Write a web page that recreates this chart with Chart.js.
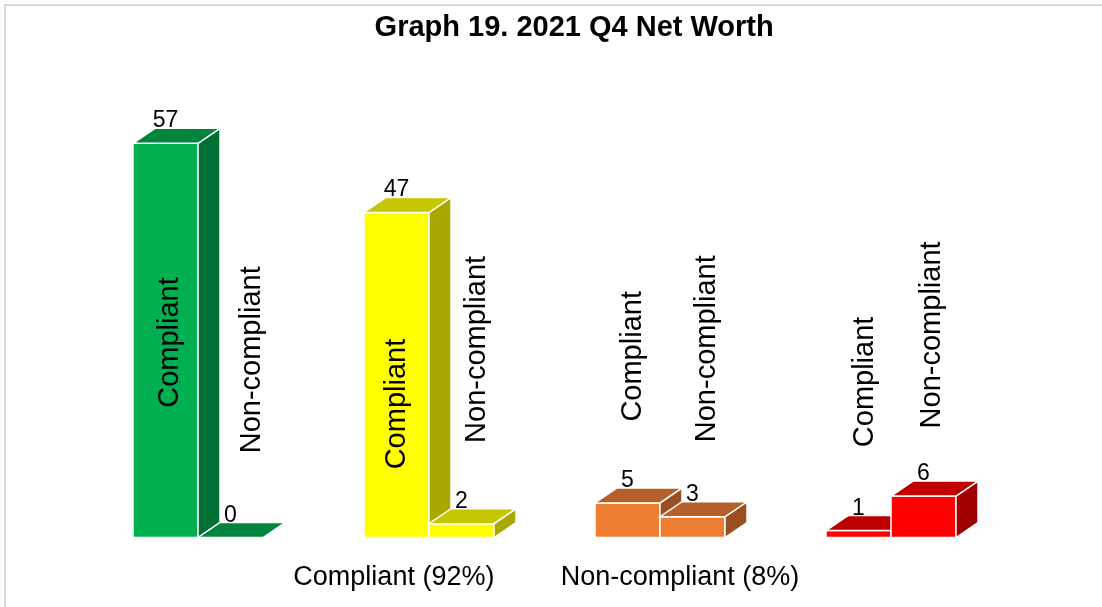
<!DOCTYPE html>
<html><head><meta charset="utf-8">
<script src="https://cdn.jsdelivr.net/npm/chart.js@4/dist/chart.umd.min.js"></script>
<style>
html,body{margin:0;padding:0;background:#fff;}
#wrap{position:relative;width:1102px;height:607px;overflow:hidden;}
#frame{position:absolute;left:4px;top:4px;width:1200px;height:700px;border-top:2px solid #d9d9d9;border-left:2px solid #d9d9d9;pointer-events:none;}
canvas{position:absolute;left:0;top:0;}
</style></head><body>
<div id="wrap"><canvas id="c" width="1102" height="607"></canvas><div id="frame"></div></div>
<script>
// ---- data ----
const titleText = 'Graph 19. 2021 Q4 Net Worth';
const groups = ['Compliant (92%) A', 'Compliant (92%) B', 'Non-compliant (8%) A', 'Non-compliant (8%) B'];
const axisLabels = ['Compliant (92%)', 'Non-compliant (8%)'];
const seriesNames = ['Compliant', 'Non-compliant'];
const compliantValues = [57, 47, 5, 1];
const nonCompliantValues = [0, 2, 3, 6];
const frontColors = ['#00B050', '#FFFF00', '#ED7D31', '#FF0000'];
const topColors   = ['#00853D', '#C6C600', '#B5602A', '#C00000'];
const sideColors  = ['#006F33', '#A8A800', '#9A4F22', '#A00000'];

// ---- layout (styling only) ----
const DEPTH_X = 22, DEPTH_Y = 15;
const FONT = "'Liberation Sans', Arial, sans-serif";
// series label placement: value-unit centre and pixel x offset from bar centre
const seriesLabelPos = [[28.2, 19.3, 26.2, 22.5], [25.7, 27.2, 27.3, 29.3]];
const seriesLabelDx  = [[4.5, 0.5, 5.5, 6.5], [21.5, 15, 14, 8]];
const axisLabelFrac = [0.337, 0.6466];
const titleFrac = 0.521;

function poly(ctx, pts, fill) {
  ctx.beginPath();
  ctx.moveTo(pts[0][0], pts[0][1]);
  for (let i = 1; i < pts.length; i++) ctx.lineTo(pts[i][0], pts[i][1]);
  ctx.closePath();
  ctx.fillStyle = fill;
  ctx.fill();
  ctx.stroke();
}

const bar3d = {
  id: 'bar3d',
  afterDatasetsDraw(chart) {
    const ctx = chart.ctx;
    const n = chart.data.labels.length;
    const metas = chart.data.datasets.map((d, i) => chart.getDatasetMeta(i));
    ctx.save();
    ctx.lineWidth = 1.5;
    ctx.strokeStyle = '#ffffff';
    ctx.lineJoin = 'miter';
    for (let g = 0; g < n; g++) {
      metas.forEach((meta) => {
        const el = meta.data[g];
        const p = el.getProps(['x', 'y', 'base', 'width'], true);
        const l = p.x - p.width / 2, r = p.x + p.width / 2;
        const y = p.y, b = p.base;
        if (b - y > 0.5) poly(ctx, [[l, y], [r, y], [r, b], [l, b]], frontColors[g]);
        if (b - y > 0.5) poly(ctx, [[r, y], [r + DEPTH_X, y - DEPTH_Y], [r + DEPTH_X, b - DEPTH_Y], [r, b]], sideColors[g]);
        poly(ctx, [[l, y], [l + DEPTH_X, y - DEPTH_Y], [r + DEPTH_X, y - DEPTH_Y], [r, y]], topColors[g]);
      });
    }
    // value labels
    ctx.fillStyle = '#000';
    ctx.textAlign = 'center';
    ctx.textBaseline = 'alphabetic';
    ctx.font = '23px ' + FONT;
    metas.forEach((meta, di) => {
      meta.data.forEach((el, g) => {
        const p = el.getProps(['x', 'y'], true);
        ctx.fillText(String(chart.data.datasets[di].data[g]), p.x, p.y - DEPTH_Y - 1);
      });
    });
    // series name labels (rotated)
    ctx.font = '29px ' + FONT;
    ctx.textBaseline = 'middle';
    const ys = chart.scales.y;
    metas.forEach((meta, di) => {
      meta.data.forEach((el, g) => {
        const p = el.getProps(['x'], true);
        ctx.save();
        ctx.translate(p.x + seriesLabelDx[di][g], ys.getPixelForValue(seriesLabelPos[di][g]));
        ctx.rotate(-Math.PI / 2);
        ctx.fillText(seriesNames[di], 0, 0);
        ctx.restore();
      });
    });
    // category axis labels
    const ca = chart.chartArea;
    ctx.font = '27px ' + FONT;
    ctx.textBaseline = 'middle';
    axisLabels.forEach((t, i) => {
      ctx.fillText(t, ca.left + axisLabelFrac[i] * (ca.right - ca.left), ca.bottom + 40);
    });
    // title
    ctx.font = 'bold 29px ' + FONT;
    ctx.fillText(titleText, chart.width * titleFrac, 28);
    ctx.restore();
  }
};

new Chart(document.getElementById('c'), {
  type: 'bar',
  data: {
    labels: groups,
    datasets: [
      { label: seriesNames[0], data: compliantValues, backgroundColor: frontColors, borderWidth: 0 },
      { label: seriesNames[1], data: nonCompliantValues, backgroundColor: frontColors, borderWidth: 0 }
    ]
  },
  options: {
    responsive: false,
    animation: false,
    devicePixelRatio: 1,
    layout: { padding: { left: 82.5, right: 95.5, top: 122.6, bottom: 69.5 } },
    datasets: { bar: { categoryPercentage: 130 / 231, barPercentage: 1 } },
    scales: {
      x: { display: false },
      y: { display: false, min: 0, max: 60 }
    },
    plugins: {
      legend: { display: false },
      tooltip: { enabled: false },
      title: { display: false, text: titleText }
    }
  },
  plugins: [bar3d]
});
</script>
</body></html>
